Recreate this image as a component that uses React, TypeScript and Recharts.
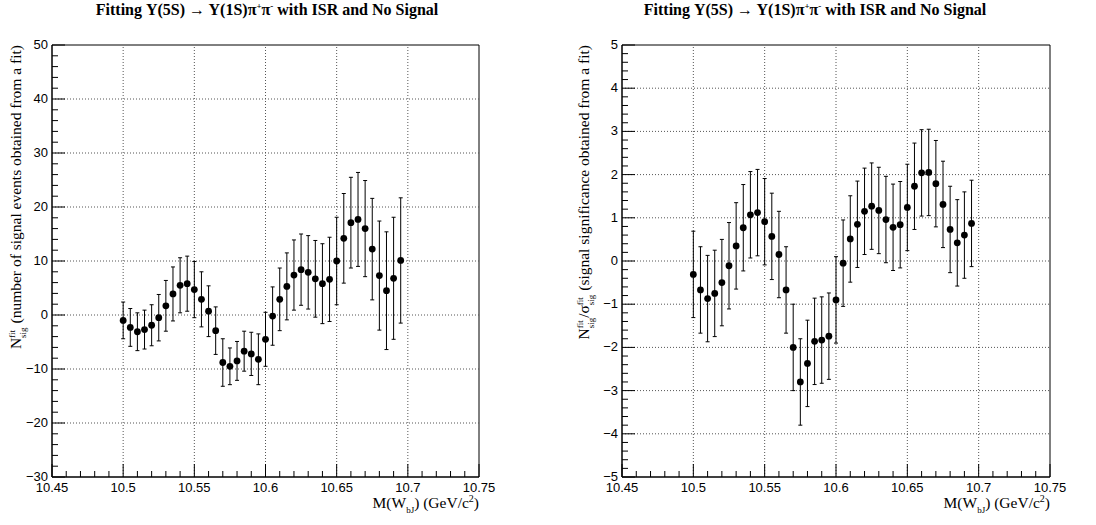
import React from 'react';
import {
    ScatterChart,
    Scatter,
    XAxis,
    YAxis,
    ErrorBar,
    ReferenceLine,
    ReferenceArea,
} from 'recharts';

// mass bins, GeV/c^2
const massPoints = [
    10.5, 10.505, 10.51, 10.515, 10.52, 10.525, 10.53, 10.535, 10.54, 10.545,
    10.55, 10.555, 10.56, 10.565, 10.57, 10.575, 10.58, 10.585, 10.59, 10.595,
    10.6, 10.605, 10.61, 10.615, 10.62, 10.625, 10.63, 10.635, 10.64, 10.645,
    10.65, 10.655, 10.66, 10.665, 10.67, 10.675, 10.68, 10.685, 10.69, 10.695,
];

const nsigValues = [
    -1.0, -2.3, -3.1, -2.7, -1.9, -0.5, 1.7, 3.9, 5.5, 5.8,
    4.7, 2.9, 0.7, -2.9, -8.8, -9.5, -8.5, -6.7, -7.2, -8.2,
    -4.5, -0.2, 2.9, 5.3, 7.4, 8.4, 7.9, 6.7, 5.8, 6.6,
    10.0, 14.2, 17.1, 17.7, 16.0, 12.2, 7.3, 4.5, 6.8, 10.1,
];

const nsigErrors = [
    3.4, 3.5, 3.5, 3.6, 3.8, 4.3, 4.7, 5.0, 5.1, 5.1,
    5.2, 5.1, 4.7, 4.4, 4.4, 3.4, 3.6, 3.7, 4.0, 4.7,
    5.0, 5.4, 5.8, 6.2, 6.5, 6.6, 6.8, 7.1, 7.4, 7.8,
    8.1, 8.3, 8.4, 8.7, 8.9, 9.4, 10.1, 10.9, 11.3, 11.6,
];

const signifValues = [
    -0.31, -0.67, -0.87, -0.75, -0.5, -0.11, 0.35, 0.77, 1.07, 1.12,
    0.91, 0.57, 0.15, -0.67, -2.0, -2.8, -2.37, -1.86, -1.83, -1.74,
    -0.9, -0.05, 0.51, 0.85, 1.15, 1.27, 1.17, 0.96, 0.78, 0.84,
    1.24, 1.73, 2.04, 2.05, 1.79, 1.31, 0.73, 0.42, 0.6, 0.87,
];

const signifErrors = [
    1, 1, 1, 1, 1, 1, 1, 1, 1, 1,
    1, 1, 1, 1, 1, 1, 1, 1, 1, 1,
    1, 1, 1, 1, 1, 1, 1, 1, 1, 1,
    1, 1, 1, 1, 1, 1, 1, 1, 1, 1,
];

const xMajorTicks = [10.45, 10.5, 10.55, 10.6, 10.65, 10.7, 10.75];
const nsigMajorTicks = [-30, -20, -10, 0, 10, 20, 30, 40, 50];
const signifMajorTicks = [-5, -4, -3, -2, -1, 0, 1, 2, 3, 4, 5];

const SERIF = "'Liberation Serif', 'DejaVu Serif', serif";
const SANS = "'Liberation Sans', Arial, sans-serif";

const X_AXIS_H = 30;
const Y_AXIS_W = 40;

// ROOT style: 5 minor divisions between major ticks
const withMinor = (majors: number[], n: number) => {
    const out: number[] = [];
    for (let i = 0; i < majors.length - 1; i++) {
        const step = (majors[i + 1] - majors[i]) / n;
        for (let k = 0; k < n; k++) out.push(majors[i] + k * step);
    }
    out.push(majors[majors.length - 1]);
    return out;
};

const fmt = (v: number) => (v < 0 ? `\u2212${Math.abs(v)}` : `${v}`);
const isMajor = (v: number, majors: number[]) => majors.some((m) => Math.abs(m - v) < 1e-9);

const makeXTick = (majors: number[]) => (props: any) => {
    const { x, y, payload } = props;
    const major = isMajor(payload.value, majors);
    return (
        <g>
            <line x1={x} x2={x} y1={y} y2={y - (major ? 13 : 6)} stroke="#000" strokeWidth={1} />
            {major && (
                <text x={x} y={y + 15} textAnchor="middle" fontSize={13} fontFamily={SANS} fill="#000">
                    {fmt(payload.value)}
                </text>
            )}
        </g>
    );
};

const makeYTick = (majors: number[]) => (props: any) => {
    const { x, y, payload } = props;
    const major = isMajor(payload.value, majors);
    return (
        <g>
            <line x1={x} x2={x + (major ? 13 : 6)} y1={y} y2={y} stroke="#000" strokeWidth={1} />
            {major && (
                <text x={x - 4} y={y + 4} textAnchor="end" fontSize={13} fontFamily={SANS} fill="#000">
                    {fmt(payload.value)}
                </text>
            )}
        </g>
    );
};

const Dot = (props: any) => <circle cx={props.cx} cy={props.cy} r={3.4} fill="#000" />;

interface PanelProps {
    values: number[];
    errors: number[];
    yMajors: number[];
    left: number;
    margin: { top: number; right: number; bottom: number; left: number };
    yTitle: React.ReactNode;
    yTitleX: number;
}

const Panel: React.FC<PanelProps> = ({ values, errors, yMajors, left, margin, yTitle, yTitleX }) => {
    const data = massPoints.map((x, i) => ({ x, y: values[i], err: errors[i] }));
    const yMin = yMajors[0];
    const yMax = yMajors[yMajors.length - 1];
    const plotRight = 548 - margin.right;
    const plotBottom = 525 - margin.bottom - X_AXIS_H;

    return (
        <div style={{ position: 'absolute', left, top: 0, width: 548, height: 525 }}>
            <ScatterChart width={548} height={525} margin={margin}>
                <XAxis
                    type="number"
                    dataKey="x"
                    domain={[10.45, 10.75]}
                    ticks={withMinor(xMajorTicks, 5)}
                    interval={0}
                    tick={makeXTick(xMajorTicks)}
                    tickSize={0}
                    tickMargin={0}
                    tickLine={false}
                    height={X_AXIS_H}
                    axisLine={{ stroke: '#000' }}
                    allowDataOverflow
                />
                <YAxis
                    type="number"
                    dataKey="y"
                    domain={[yMin, yMax]}
                    ticks={withMinor(yMajors, 5)}
                    interval={0}
                    tick={makeYTick(yMajors)}
                    tickSize={0}
                    tickMargin={0}
                    tickLine={false}
                    width={Y_AXIS_W}
                    axisLine={{ stroke: '#000' }}
                    allowDataOverflow
                />
                {xMajorTicks.slice(1, -1).map((v) => (
                    <ReferenceLine key={`gx${v}`} x={v} stroke="#555" strokeDasharray="1 2" />
                ))}
                {yMajors.slice(1, -1).map((v) => (
                    <ReferenceLine key={`gy${v}`} y={v} stroke="#555" strokeDasharray="1 2" />
                ))}
                <ReferenceArea x1={10.45} x2={10.75} y1={yMin} y2={yMax} fill="none" stroke="#000" strokeWidth={1} />
                <Scatter data={data} shape={Dot} isAnimationActive={false}>
                    <ErrorBar dataKey="err" direction="y" width={2} stroke="#000" strokeWidth={1} isAnimationActive={false} />
                </Scatter>
            </ScatterChart>
            <svg
                width={548}
                height={525}
                style={{ position: 'absolute', left: 0, top: 0, pointerEvents: 'none' }}
            >
                <text x={267} y={15} textAnchor="middle" fontSize={16} fontWeight="bold" fontFamily={SERIF}>
                    Fitting {'\u03A5'}(5S) {'\u2192'} {'\u03A5'}(1S){'\u03C0'}
                    <tspan fontSize={9} dy={-6}>+</tspan>
                    <tspan dy={6}>{'\u03C0'}</tspan>
                    <tspan fontSize={9} dy={-6}>-</tspan>
                    <tspan dy={6}> with ISR and No Signal</tspan>
                </text>
                <text x={plotRight} y={plotBottom + 31} textAnchor="end" fontSize={15.5} fontFamily={SERIF}>
                    M(W<tspan fontSize={9} dy={5}>bJ</tspan>
                    <tspan dy={-5}>) (GeV/c</tspan>
                    <tspan fontSize={10} dy={-6}>2</tspan>
                    <tspan dy={6}>)</tspan>
                </text>
                <text
                    x={yTitleX}
                    y={margin.top}
                    textAnchor="end"
                    fontSize={15.5}
                    fontFamily={SERIF}
                    transform={`rotate(-90, ${yTitleX}, ${margin.top})`}
                >
                    {yTitle}
                </text>
            </svg>
        </div>
    );
};

const NFit = () => (
    <>
        <tspan>N</tspan>
        <tspan fontSize={9} dy={-6}>fit</tspan>
        <tspan fontSize={9} dx={-8} dy={11}>sig</tspan>
    </>
);

export default function App() {
    return (
        <div style={{ position: 'absolute', left: 0, top: 0, width: 1096, height: 525, background: '#fff' }}>
            <Panel
                values={nsigValues}
                errors={nsigErrors}
                yMajors={nsigMajorTicks}
                left={0}
                margin={{ top: 45, right: 69, bottom: 18, left: 52 - Y_AXIS_W }}
                yTitleX={21}
                yTitle={
                    <>
                        <NFit />
                        <tspan dy={-5}> (number of signal events obtained from a fit)</tspan>
                    </>
                }
            />
            <Panel
                values={signifValues}
                errors={signifErrors}
                yMajors={signifMajorTicks}
                left={548}
                margin={{ top: 45, right: 46, bottom: 18, left: 74 - Y_AXIS_W }}
                yTitleX={41}
                yTitle={
                    <>
                        <NFit />
                        <tspan dy={-5}>/{'\u03C3'}</tspan>
                        <tspan fontSize={9} dy={-6}>fit</tspan>
                        <tspan fontSize={9} dx={-8} dy={11}>sig</tspan>
                        <tspan dy={-5}> (signal significance obtained from a fit)</tspan>
                    </>
                }
            />
        </div>
    );
}
